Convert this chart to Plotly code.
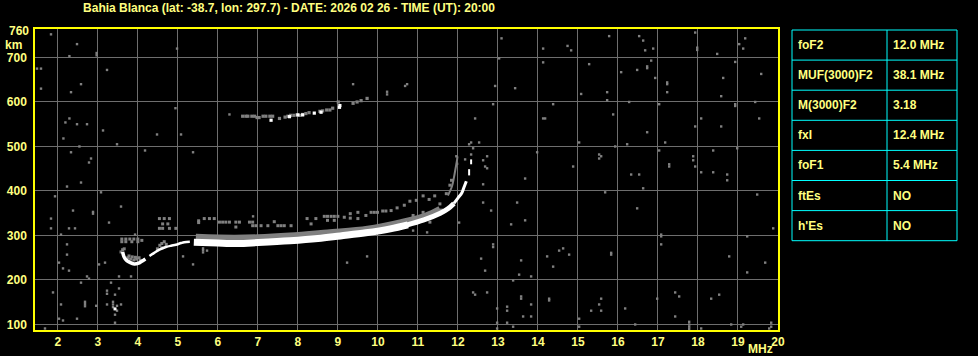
import plotly.graph_objects as go

# ---------------- data ----------------
TITLE = "Bahia Blanca (lat: -38.7, lon: 297.7) - DATE: 2026 02 26 - TIME (UT): 20:00"
freq_ticks = list(range(2, 21))
height_ticks = [100, 200, 300, 400, 500, 600, 700]
top_height_label = 760

param_names = ["foF2", "MUF(3000)F2", "M(3000)F2", "fxI", "foF1", "ftEs", "h'Es"]
param_values = ["12.0 MHz", "38.1 MHz", "3.18", "12.4 MHz", "5.4 MHz", "NO", "NO"]

# white O-trace pieces (MHz, km)
hook_f = [3.62, 3.66, 3.72, 3.79, 3.91, 4.02, 4.08, 4.19]
hook_h = [263, 251, 244, 240, 236, 238, 241, 247]
rise_f = [4.29, 4.41, 4.54, 4.70, 4.83, 4.95, 5.08, 5.16, 5.30]
rise_h = [254, 261, 268, 274, 277, 279, 283, 285, 286]
band_f = [5.40, 6.0, 6.5, 7.0, 7.8, 8.5, 9.06, 9.7, 10.31, 10.75]
band_h = [285, 283, 282, 284, 288, 293, 299, 306, 315, 324]
upper_f = [10.7, 11.15, 11.56, 11.75, 11.9]
upper_h = [323, 335, 350, 360, 372]
tip_f = [11.9, 12.0, 12.1, 12.15, 12.21]
tip_h = [372, 384, 396, 408, 422]
top_f = [12.28, 12.28, None, 12.33, 12.33]
top_h = [435, 449, None, 460, 471]

# grey echo band above the O-trace and grey second curve
grey_band_f = [5.45, 6.4, 7.0, 7.8, 8.74, 9.74, 10.58, 11.2, 11.55]
grey_band_h = [297, 295, 296, 300, 307, 315, 330, 345, 360]
grey_curve_f = [11.75, 11.85, 11.9, 11.94, 11.97, 11.99]
grey_curve_h = [390, 410, 430, 450, 465, 478]

# second hop echo
hop2_grey_f = [6.62, 6.70, 6.75, 6.85, 6.92, 6.98, 7.03, 7.13, 7.20, 7.30, 7.37, 7.54,
               7.68, 7.75, 7.82, 7.90, 7.98, 8.05, 8.12, 8.20, 8.28, 8.55, 8.62, 8.72,
               8.80, 8.87, 9.01, 9.38, 9.48, 9.58, 9.73]
hop2_grey_h = [568, 568, 568, 568, 568, 565, 565, 568, 568, 568, 568, 563,
               566, 568, 570, 570, 571, 570, 572, 574, 576, 579, 580, 582,
               582, 586, 600, 597, 600, 603, 608]
hop2_white_f = [7.33, 7.79, 8.00, 8.12, 8.41, 8.58, 9.04, 9.05]
hop2_white_h = [559, 567, 571, 571, 575, 577, 588, 592]

# scattered grey echoes near the traces
echo_f = [3.60, 3.70, 3.80, 3.90, 4.00, 3.60, 3.70, 3.85, 4.00, 4.10, 3.58, 3.62, 3.66,
          3.75, 3.82, 3.90, 3.97, 4.03, 3.78, 3.86, 3.94, 4.06,
          4.49, 4.55, 4.60, 4.66, 4.71, 4.60,
          4.54, 4.66, 4.79, 4.62, 4.75, 4.54, 4.62, 4.79, 4.95,
          5.52, 5.52, 5.66, 5.79, 5.91, 6.04, 6.12, 6.20, 6.29, 6.45, 6.54, 6.45, 6.79,
          6.87, 6.87, 6.95, 7.08, 7.25, 7.41, 7.50, 7.58, 7.66, 7.83, 8.23, 8.33, 8.45,
          8.66, 8.74, 8.83, 8.91, 9.00, 8.74, 8.91, 9.16, 9.31, 9.31, 9.50, 9.50, 9.70,
          9.83, 9.91, 9.99, 10.12, 10.20, 10.33, 10.48, 10.66,
          10.80, 10.96, 11.13, 11.28, 11.42, 11.55, 11.59, 11.71, 11.80, 11.84, 11.30,
          10.88, 11.13, 11.38]
echo_h = [292, 292, 292, 292, 292, 286, 286, 286, 286, 289, 263, 268, 270,
          250, 247, 245, 247, 250, 254, 252, 251, 244,
          270, 278, 282, 286, 280, 272,
          338, 338, 338, 326, 326, 316, 316, 316, 316,
          329, 333, 338, 338, 338, 330, 330, 330, 330, 330, 330, 319, 330,
          330, 322, 322, 322, 322, 331, 322, 322, 322, 322, 338, 326, 338,
          343, 343, 343, 343, 343, 334, 334, 341, 349, 339, 352, 338, 345,
          352, 352, 352, 355, 355, 356, 362, 368,
          377, 379, 389, 381, 389, 371, 357, 394, 413, 424, 330,
          345, 352, 345]

# background noise pixels
noise_f = [1.83, 2.48, 2.29, 2.97, 2.97, 4.98, 1.48, 1.58, 3.23, 1.58, 2.33, 2.58, 4.94,
           2.29, 2.19, 2.48, 2.73, 3.13, 2.14, 4.48, 5.08, 2.54, 3.48, 2.33, 2.83, 2.78,
           4.18, 5.38, 6.29, 9.38, 10.23, 10.23, 10.68,
           13.09, 14.13, 14.74, 14.83, 15.78, 16.53, 16.63, 16.68, 16.88, 17.93, 17.98,
           17.98, 18.48, 19.03, 19.13, 19.18, 13.03, 14.13, 15.28, 16.08, 16.48, 16.73,
           16.73, 16.83, 16.93, 17.23, 17.23, 17.23, 18.93, 19.58, 18.63, 18.58, 10.73,
           12.93, 13.43, 15.08, 15.73, 15.73, 12.88, 14.38, 16.28, 17.03, 18.93, 18.93,
           19.43, 12.43, 14.13, 14.18, 15.88, 18.08, 19.53, 17.93, 18.58, 16.73, 15.03,
           16.23, 17.18, 15.93, 18.98, 18.38, 17.03, 13.98, 15.53, 15.58, 15.53, 17.88,
           17.88, 17.93, 17.28, 17.28, 14.88, 18.08, 18.38, 18.73, 16.33, 16.53, 13.68,
           12.28, 12.33, 12.53, 12.38, 12.33, 12.73, 12.63, 12.68, 12.73, 11.96, 11.98,
           12.18,
           12.63, 12.63, 12.83, 13.48, 13.68, 13.33, 12.03, 11.23, 10.88, 15.68, 16.63,
           16.48, 18.73, 19.48, 19.88, 19.23, 17.08, 17.08, 17.08, 12.88, 12.88, 12.58,
           13.58, 12.68, 13.53, 13.83, 13.38, 14.23, 14.53, 14.63, 14.78, 14.38, 15.83,
           15.83, 18.78, 19.68, 19.23, 12.38, 12.43, 12.73, 13.58, 13.58, 14.28, 14.28,
           13.83, 13.23, 13.23, 12.98, 13.63, 13.83, 13.23, 12.98, 13.38, 12.98, 15.03,
           15.03, 15.58, 15.53, 15.33, 15.58, 16.18, 16.43, 16.98, 17.43, 17.53, 17.43,
           17.78, 17.78, 17.78, 17.78, 18.08, 18.33, 18.53, 18.83, 19.08, 19.13, 19.83,
           19.83, 19.78,
           2.23, 2.58, 3.08, 1.93, 3.58, 2.38, 2.88, 2.88, 1.83, 3.28, 2.28, 2.43, 1.83,
           2.08, 2.23, 2.23, 2.03, 2.13, 2.28, 3.03, 3.18, 2.73, 2.78, 3.53, 3.83, 2.58,
           3.33, 1.88, 3.23, 3.23, 3.53, 3.43, 2.68, 2.68, 2.68, 2.08, 2.96, 3.23, 3.38,
           3.38, 3.38, 3.48, 3.58, 3.48, 3.43, 2.48, 2.03, 2.13, 3.43, 1.68, 5.38, 5.13,
           5.63, 5.63, 5.63, 5.73, 9.23, 9.73, 6.88, 3.93]
noise_h = [752, 730, 703, 705, 710, 720, 675, 675, 672, 630, 622, 640, 586,
           563, 554, 550, 550, 536, 518, 527, 527, 500, 505, 487, 473, 464,
           491, 487, 572, 640, 617, 623, 636,
           743, 720, 726, 716, 748, 748, 738, 716, 720, 756, 717,
           722, 708, 730, 720, 743, 698, 689, 685, 667, 672, 676,
           680, 693, 654, 640, 644, 622, 690, 663, 654, 613, 640,
           636, 631, 618, 622, 604, 595, 595, 600, 595, 591, 595,
           600, 563, 563, 563, 572, 563, 563, 545, 545, 532, 509,
           505, 509, 500, 496, 491, 491, 487, 482, 478, 473, 478,
           469, 455, 455, 460, 455, 442, 442, 437, 437, 437, 428,
           505, 509, 509, 496, 482, 478, 469, 455, 451, 478, 461,
           471,
           415, 374, 356, 374, 334, 325, 329, 307, 311, 397, 406,
           361, 424, 392, 316, 298, 298, 302, 280, 274, 280, 248,
           244, 221, 212, 208, 199, 253, 266, 271, 257, 230, 257,
           261, 253, 239, 217, 172, 167, 172, 158, 163, 154, 158,
           145, 140, 131, 136, 118, 118, 104, 104, 95, 91, 113,
           95, 158, 145, 131, 131, 136, 100, 158, 172, 163, 118,
           90, 95, 100, 106, 91, 158, 167, 100, 95, 100, 104,
           95, 91,
           410, 419, 397, 388, 365, 356, 349, 353, 338, 329, 316, 316, 316,
           302, 280, 257, 239, 226, 221, 235, 239, 208, 203, 208, 208, 194,
           194, 172, 169, 176, 181, 167, 141, 146, 151, 145, 142, 145, 139,
           145, 151, 142, 145, 131, 122, 113, 113, 109, 104, 91, 235, 253,
           262, 267, 271, 266, 239, 253, 343, 302]
white_dot_f = [3.43]
white_dot_h = [135]

# ---------------- styles ----------------
YEL_TEXT = "#ffff80"
YEL_AXIS = "#ffff00"
GRID = "#6e6e6e"
GREY = "#808080"
WHITE = "#ffffff"
CYAN = "#00ffff"
FONT = "Liberation Sans, Arial, sans-serif"

L, R, T, B = 35, 778, 29, 330   # plot area in pixels
W, H = 978, 356


def paper_x(px):
    return (px - L) / (R - L)


def paper_y(py):
    return (B - py) / (B - T)


fig = go.Figure()


def add_markers(f, h, color, size):
    fig.add_trace(go.Scatter(x=f, y=h, mode="markers", hoverinfo="skip",
                             marker=dict(symbol="square", size=size, color=color,
                                         line=dict(width=0))))


def add_line(f, h, color, width, shape="spline"):
    fig.add_trace(go.Scatter(x=f, y=h, mode="lines", hoverinfo="skip",
                             line=dict(color=color, width=width, shape=shape)))


add_markers(noise_f, noise_h, GREY, 2.4)
add_markers(echo_f, echo_h, GREY, 3)
add_line(grey_band_f, grey_band_h, GREY, 6)
add_line(grey_curve_f, grey_curve_h, GREY, 2)
add_markers(hop2_grey_f, hop2_grey_h, GREY, 3.2)
add_markers(hop2_white_f, hop2_white_h, WHITE, 3.2)
add_line(hook_f, hook_h, WHITE, 3.5)
add_line(rise_f, rise_h, WHITE, 2.5)
add_line(band_f, band_h, WHITE, 7)
add_line(upper_f, upper_h, WHITE, 5)
add_line(tip_f, tip_h, WHITE, 3)
add_line(top_f, top_h, WHITE, 2, shape="linear")
add_markers(white_dot_f, white_dot_h, WHITE, 3)

tick_font = dict(family=FONT, size=12, color=YEL_TEXT, weight="bold")

fig.update_layout(
    template="none",
    width=W, height=H,
    margin=dict(l=L, r=W - R, t=T, b=H - B, pad=0, autoexpand=False),
    paper_bgcolor="black", plot_bgcolor="black",
    showlegend=False,
    title=dict(text=TITLE, x=289 / W, xanchor="center", xref="container",
               y=1 - 7.5 / H, yanchor="middle", yref="container",
               font=dict(family=FONT, size=12, color=YEL_TEXT, weight="bold")),
    xaxis=dict(range=[1.43, 20.0], tickvals=freq_ticks,
               ticktext=[str(v) for v in freq_ticks], automargin=False,
               showgrid=True, gridcolor=GRID, gridwidth=1, zeroline=False,
               showline=True, linecolor=YEL_AXIS, linewidth=1.5, mirror=True,
               ticks="", ticklabelstandoff=0, tickfont=tick_font),
    yaxis=dict(range=[87.6, 764], tickvals=height_ticks,
               ticktext=[str(v) for v in height_ticks], automargin=False,
               showgrid=True, gridcolor=GRID, gridwidth=1, zeroline=False,
               showline=True, linecolor=YEL_AXIS, linewidth=1.5, mirror=True,
               ticks="", ticklabelstandoff=4, tickfont=tick_font),
)

ann_font = dict(family=FONT, size=12, color=YEL_TEXT, weight="bold")
fig.add_annotation(text=str(top_height_label), xref="paper", x=0, xanchor="right",
                   xshift=-4, yref="y", y=top_height_label, yanchor="middle",
                   showarrow=False, font=ann_font)
fig.add_annotation(text="km", xref="paper", x=0, xanchor="center", xshift=-22,
                   yref="y", y=729, yanchor="middle", showarrow=False, font=ann_font)
fig.add_annotation(text="MHz", xref="x", x=19.55, xanchor="center",
                   yref="paper", y=0, yshift=-19, yanchor="middle",
                   showarrow=False, font=ann_font)

# parameter table on the right
TX0, TX1, TCOL, TY0, ROW_H = 792, 957, 887, 30, 30.1
n = len(param_names)
fig.add_shape(type="rect", xref="paper", yref="paper",
              x0=paper_x(TX0), x1=paper_x(TX1),
              y0=paper_y(TY0 + n * ROW_H), y1=paper_y(TY0),
              line=dict(color=CYAN, width=1), fillcolor="rgba(0,0,0,0)")
fig.add_shape(type="line", xref="paper", yref="paper",
              x0=paper_x(TCOL), x1=paper_x(TCOL),
              y0=paper_y(TY0 + n * ROW_H), y1=paper_y(TY0),
              line=dict(color=CYAN, width=1))
for i in range(1, n):
    yy = paper_y(TY0 + i * ROW_H)
    fig.add_shape(type="line", xref="paper", yref="paper",
                  x0=paper_x(TX0), x1=paper_x(TX1), y0=yy, y1=yy,
                  line=dict(color=CYAN, width=1))
for i, (name, val) in enumerate(zip(param_names, param_values)):
    yc = paper_y(TY0 + (i + 0.5) * ROW_H)
    fig.add_annotation(text=name, xref="paper", x=paper_x(TX0 + 4), xanchor="left",
                       yref="paper", y=yc, yanchor="middle", showarrow=False,
                       font=ann_font)
    fig.add_annotation(text=val, xref="paper", x=paper_x(TCOL + 4), xanchor="left",
                       yref="paper", y=yc, yanchor="middle", showarrow=False,
                       font=ann_font)

fig.write_html("out.html")
